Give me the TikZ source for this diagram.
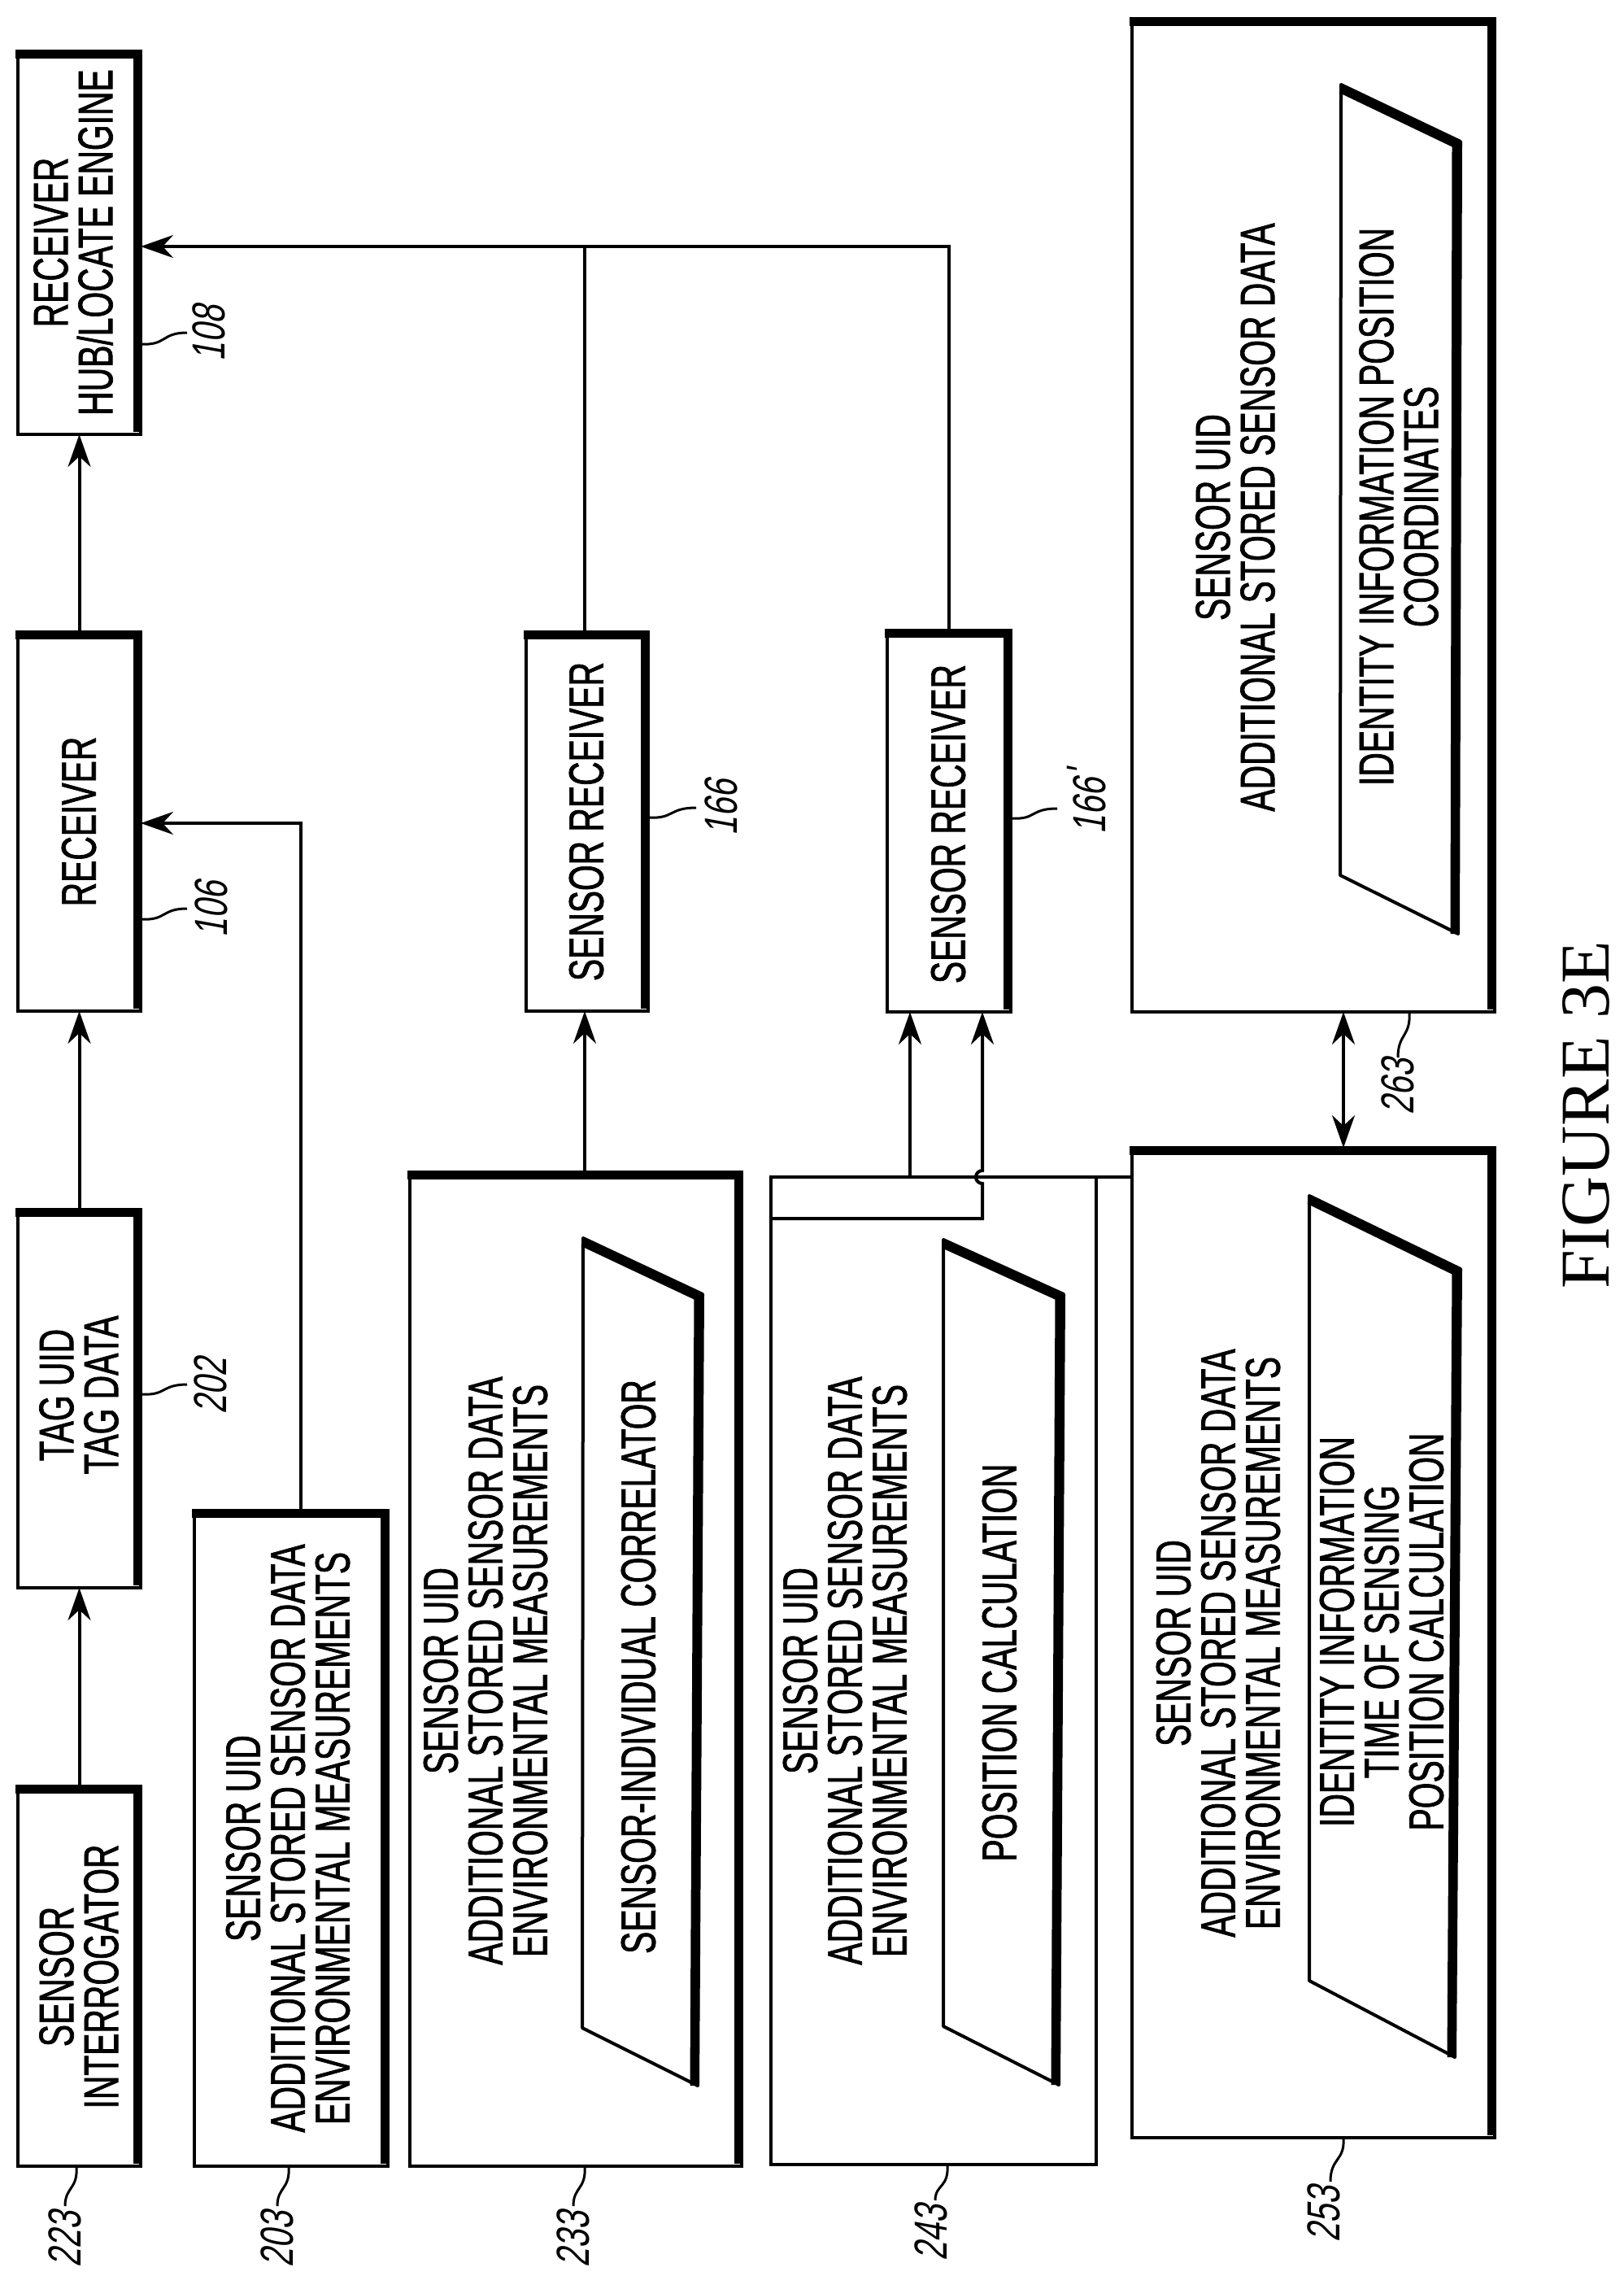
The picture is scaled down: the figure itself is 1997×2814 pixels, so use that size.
\documentclass[tikz,border=0pt]{standalone}
\usepackage{fontspec}
\usetikzlibrary{arrows.meta}
\newfontfamily\boxfont[FakeStretch=0.68,FakeBold=1.2]{Liberation Sans}
\newfontfamily\numfont[FakeStretch=0.72,FakeSlant=0.18]{Liberation Sans}
\newfontfamily\figfont{Liberation Serif}
\begin{document}
\begin{tikzpicture}[x=1pt,y=-1pt,
  box/.style={draw,line width=4pt,rectangle,inner sep=0pt,outer sep=0pt},
  txt/.style={rotate=90,align=center,inner sep=0pt,font=\boxfont\fontsize{60}{55}\selectfont},
  num/.style={rotate=90,inner sep=0pt,font=\numfont\fontsize{57}{57}\selectfont},
  thick edge/.style={line width=11pt},
  con/.style={line width=4pt},
  arr/.style={line width=4pt,-{Stealth[length=40pt,width=28pt]}},
  darr/.style={line width=4pt,{Stealth[length=40pt,width=28pt]}-{Stealth[length=40pt,width=28pt]}},
  lead/.style={line width=3pt}]
\useasboundingbox (0,0) rectangle (1997,2814);
\fill[white] (0,0) rectangle (1997,2814);
\newcommand{\mybox}[5]{%
  \node[box,minimum width={#4-#2},minimum height={#5-#3}] (#1) at ({(#2+#4)/2},{(#3+#5)/2}) {};}
\newcommand{\shadow}[1]{%
  \draw[thick edge] ([xshift=-3pt,yshift=-3.5pt]#1.north west) -- ([xshift=-3.5pt,yshift=-3.5pt]#1.north east) -- ([xshift=-3.5pt,yshift=3pt]#1.south east);}
\mybox{n108}{22}{63}{173}{534}
\mybox{n106}{22}{777}{173}{1243}
\mybox{n202}{22}{1487}{173}{1952}
\mybox{n223}{22}{2196}{173}{2663}
\mybox{n203}{239}{1857}{477}{2663}
\mybox{n166}{647}{777}{797}{1243}
\mybox{n233}{504}{1441}{912}{2663}
\mybox{n166p}{1091}{775}{1243}{1244}
\mybox{n243}{948}{1447}{1348}{2661}
\mybox{n253}{1392}{1411}{1838}{2628}
\mybox{n263}{1392}{23}{1838}{1244}
\foreach \b in {n108,n106,n202,n223,n203,n166,n233,n166p,n253,n263} {\shadow{\b}}
% trapezoids
\draw[line width=4pt,line join=round] (717,1522) -- (864,1591) -- (858,2564) -- (716,2493) -- cycle;
\draw[thick edge] (717,1527) -- (859,1594) -- (854,2564);
\draw[line width=4pt,line join=round] (1160,1524) -- (1308,1591) -- (1302,2563) -- (1160,2491) -- cycle;
\draw[thick edge] (1160,1529) -- (1303,1594) -- (1298,2563);
\draw[line width=4pt,line join=round] (1610,1470) -- (1796,1560) -- (1789,2529) -- (1610,2435) -- cycle;
\draw[thick edge] (1610,1475) -- (1791,1563) -- (1785,2529);
\draw[line width=4pt,line join=round] (1649,104) -- (1796,174) -- (1793,1148) -- (1648,1076) -- cycle;
\draw[thick edge] (1649,109) -- (1791,177) -- (1789,1148);
% texts
\node[txt] (t108) at (90,298) {RECEIVER\\HUB/LOCATE ENGINE};
\node[txt] (t106) at (97,1010) {RECEIVER};
\node[txt] (t202) at (97,1715) {TAG UID\\TAG DATA};
\node[txt] (t223) at (97,2430) {SENSOR\\INTERROGATOR};
\node[txt] (t203) at (354,2260) {SENSOR UID\\ADDITIONAL STORED SENSOR DATA\\ENVIRONMENTAL MEASUREMENTS};
\node[txt] (t166) at (721,1010) {SENSOR RECEIVER};
\node[txt] (t233) at (597,2054) {SENSOR UID\\ADDITIONAL STORED SENSOR DATA\\ENVIRONMENTAL MEASUREMENTS};
\node[txt] (t233b) at (785,2049) {SENSOR-INDIVIDUAL CORRELATOR};
\node[txt] (t166p) at (1166,1013) {SENSOR RECEIVER};
\node[txt] (t243) at (1039,2054) {SENSOR UID\\ADDITIONAL STORED SENSOR DATA\\ENVIRONMENTAL MEASUREMENTS};
\node[txt] (t243b) at (1229,2044) {POSITION CALCULATION};
\node[txt] (t253) at (1498,2020) {SENSOR UID\\ADDITIONAL STORED SENSOR DATA\\ENVIRONMENTAL MEASUREMENTS};
\node[txt] (t253b) at (1699,2006) {IDENTITY INFORMATION\\TIME OF SENSING\\POSITION CALCULATION};
\node[txt] (t263) at (1519,636) {SENSOR UID\\ADDITIONAL STORED SENSOR DATA};
\node[txt] (t263b) at (1720,623) {IDENTITY INFORMATION POSITION\\COORDINATES};
\node[rotate=90,inner sep=0pt,font=\figfont\fontsize{86}{86}\selectfont] (fig) at (1950,1371) {FIGURE 3E};
% labels
\node[num] (l108) at (257,410) {108};
\node[num] (l106) at (260,1118) {106};
\node[num] (l202) at (259,1704) {202};
\node[num] (l166) at (887,993) {166};
\node[num] (l166p) at (1336,986) {166\kern2pt\raisebox{8pt}{'}};
\node[num] (l263) at (1719,1336) {263};
\node[num] (l223) at (80,2753) {223};
\node[num] (l203) at (341,2753) {203};
\node[num] (l233) at (705,2753) {233};
\node[num] (l243) at (1145,2745) {243};
\node[num] (l253) at (1628,2722) {253};
% leaders
\draw[lead] (173,423) .. controls (205,425) and (198,409) .. (230,409);
\draw[lead] (173,1130) .. controls (205,1132) and (198,1117) .. (230,1117);
\draw[lead] (173,1714) .. controls (205,1716) and (198,1702) .. (230,1702);
\draw[lead] (797,1005) .. controls (829,1007) and (822,993) .. (856,993);
\draw[lead] (1243,1006) .. controls (1275,1008) and (1266,994) .. (1300,994);
\draw[lead] (1733,1244) .. controls (1735,1275) and (1719,1270) .. (1719,1300);
\draw[lead] (94,2663) .. controls (96,2692) and (80,2688) .. (80,2712);
\draw[lead] (355,2663) .. controls (357,2692) and (341,2688) .. (341,2712);
\draw[lead] (719,2663) .. controls (721,2692) and (705,2688) .. (705,2712);
\draw[lead] (1165,2661) .. controls (1167,2690) and (1150,2685) .. (1150,2705);
\draw[lead] (1652,2628) .. controls (1654,2657) and (1636,2652) .. (1636,2682);
% connectors
\coordinate (j) at (719,303);
\coordinate (dx) at (1652,0);
\draw[arr] (n223.north) -- (n202.south);
\draw[arr] (n202.north) -- (n106.south);
\draw[arr] (n106.north) -- (n108.south);
\draw[arr] (n203.north -| 370,0) |- (n106.east |- 0,1012);
\draw[arr] (n233.north -| j) -- (n166.south -| j);
\draw[con] (n166.north -| j) -- (j);
\draw[arr] (n166p.north) |- (n108.east |- j);
\draw[con] (n243.north east) -- (n253.west |- n243.north);
\draw[arr] (1119,0 |- n243.north) -- (1119,0 |- n166p.south);
\draw[arr] (n243.west |- 0,1498) -- (1208,1498) -- (1208,1455) arc[start angle=-90,end angle=-270,radius=8pt] -- (1208,0 |- n166p.south);
\draw[darr] (dx |- n263.south) -- (dx |- n253.north);
\end{tikzpicture}
\end{document}
